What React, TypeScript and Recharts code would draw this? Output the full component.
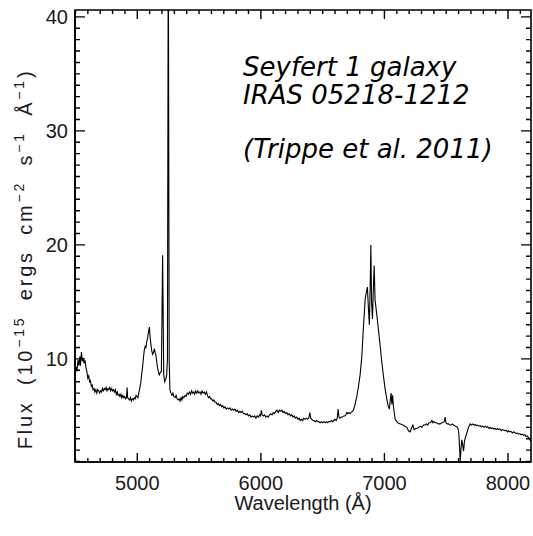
import React from "react";
import { LineChart, Line, XAxis, YAxis } from "recharts";

// ---- data: [wavelength (Å), flux (1e-15 erg/cm2/s/Å)] ----
const blueContinuum: [number, number][] = [
  [4496, 8.7], [4505, 9.3], [4512, 8.9], [4520, 9.9], [4527, 9.4], [4535, 10.2], [4540, 9.4], [4548, 10.6],
  [4555, 9.8], [4562, 10.0], [4570, 9.6], [4577, 9.9], [4585, 9.2], [4592, 8.9], [4600, 8.3], [4607, 8.5],
  [4614, 8.0], [4620, 8.1], [4628, 7.6], [4635, 7.7], [4642, 7.3], [4650, 7.4], [4657, 7.1], [4665, 7.3],
  [4672, 7.0], [4680, 7.3], [4688, 7.2], [4695, 7.0], [4703, 7.2], [4710, 7.1], [4718, 7.4], [4725, 7.2],
  [4733, 7.4], [4740, 7.3], [4748, 7.5], [4755, 7.2], [4763, 7.4], [4770, 7.3], [4778, 7.5], [4785, 7.2],
  [4793, 7.4], [4800, 7.2], [4808, 7.3], [4815, 7.1], [4823, 7.3], [4830, 6.9], [4838, 7.1], [4845, 6.8],
  [4853, 6.9], [4860, 6.7], [4868, 6.9], [4875, 6.6], [4883, 6.8], [4890, 6.6], [4898, 6.7], [4905, 6.5],
  [4912, 6.6], [4918, 7.5], [4922, 6.6], [4930, 6.5], [4938, 6.4], [4945, 6.6], [4952, 6.3], [4960, 6.5],
  [4968, 6.4], [4975, 6.6], [4983, 6.5], [4990, 6.8], [4998, 6.7],
];

const hBetaOIII: [number, number][] = [
  [5005, 6.6], [5012, 7.0], [5020, 7.4], [5028, 7.9], [5035, 8.6], [5043, 9.3], [5050, 10.1], [5057, 10.8],
  [5064, 11.1], [5070, 11.0], [5076, 11.5], [5083, 11.8], [5090, 12.3], [5098, 12.8], [5104, 11.9],
  [5110, 11.3], [5117, 10.7], [5125, 10.4], [5132, 10.6], [5138, 10.9], [5145, 10.5], [5151, 10.3],
  [5157, 9.8], [5163, 9.3], [5170, 8.9], [5178, 8.6], [5186, 8.8], [5195, 8.9], [5205, 19.1], [5214, 8.6],
  [5222, 8.0], [5230, 8.2], [5238, 8.6], [5244, 10.0], [5251, 48.0], [5258, 10.0], [5264, 7.3],
];

const midContinuum: [number, number][] = [
  [5272, 7.0], [5280, 6.8], [5288, 7.0], [5296, 6.7], [5306, 6.6], [5314, 6.8], [5322, 6.5], [5330, 6.4],
  [5338, 6.5], [5346, 6.3], [5354, 6.6], [5361, 6.4], [5368, 6.7], [5376, 6.6], [5386, 6.8], [5395, 6.7],
  [5404, 7.0], [5413, 6.9], [5422, 7.1], [5431, 6.9], [5440, 7.2], [5448, 7.0], [5456, 7.1], [5464, 6.9],
  [5473, 7.2], [5482, 7.0], [5490, 7.2], [5498, 7.0], [5507, 7.1], [5515, 6.9], [5524, 7.2], [5533, 7.0],
  [5542, 7.1], [5551, 6.9], [5560, 7.1], [5568, 6.8], [5576, 6.6], [5585, 6.7], [5594, 6.5], [5602, 6.5],
  [5611, 6.3], [5620, 6.4], [5629, 6.2], [5638, 6.2], [5647, 6.0], [5656, 6.1], [5665, 5.9], [5674, 6.0],
  [5683, 5.8], [5692, 5.9], [5701, 5.7], [5710, 5.8], [5720, 5.6], [5730, 5.7], [5740, 5.6], [5750, 5.7],
  [5760, 5.5], [5770, 5.6], [5780, 5.5], [5790, 5.6], [5800, 5.4], [5810, 5.5], [5820, 5.3], [5830, 5.4],
  [5840, 5.3], [5850, 5.4], [5860, 5.2], [5870, 5.2], [5880, 5.1], [5890, 5.2], [5900, 5.0], [5910, 5.1],
  [5920, 4.9], [5930, 5.0], [5940, 4.9], [5950, 5.0], [5960, 4.8], [5970, 5.0], [5980, 4.9], [5990, 5.1],
  [5997, 5.0], [6004, 5.5], [6010, 5.1], [6020, 5.0], [6030, 5.1], [6040, 4.9], [6050, 5.0], [6060, 4.9],
  [6070, 5.1], [6080, 5.2], [6090, 5.1], [6100, 5.3], [6110, 5.2], [6120, 5.4], [6130, 5.5], [6140, 5.3],
  [6150, 5.5], [6160, 5.4], [6170, 5.5], [6180, 5.3], [6190, 5.4], [6200, 5.2], [6210, 5.3], [6220, 5.1],
  [6230, 5.2], [6241, 5.0], [6250, 5.1], [6260, 4.9], [6270, 5.0], [6280, 4.8], [6290, 4.9], [6300, 4.7],
  [6310, 4.8], [6318, 4.6], [6328, 4.7], [6338, 4.6], [6348, 4.8], [6358, 4.7], [6368, 4.8], [6378, 4.7],
  [6388, 4.8], [6396, 5.3], [6404, 4.8], [6412, 4.7], [6420, 4.6], [6430, 4.6], [6440, 4.5], [6450, 4.6],
  [6460, 4.5], [6470, 4.5], [6480, 4.4], [6490, 4.5], [6500, 4.4], [6510, 4.5], [6520, 4.4], [6530, 4.5],
  [6540, 4.4], [6550, 4.5], [6560, 4.5], [6570, 4.6], [6580, 4.5], [6590, 4.6], [6600, 4.7], [6610, 4.6],
  [6618, 4.8], [6625, 5.6], [6632, 4.9], [6641, 4.8], [6650, 4.9], [6660, 4.9], [6670, 5.0], [6680, 5.0],
  [6687, 5.1], [6695, 5.3], [6703, 5.2], [6713, 5.3], [6722, 5.2], [6730, 5.3], [6740, 5.4],
];

const hAlphaRegion: [number, number][] = [
  [6749, 5.5], [6762, 6.0], [6776, 6.7], [6790, 7.6], [6803, 8.6], [6817, 10.2], [6830, 12.8],
  [6844, 15.2], [6853, 15.8], [6862, 16.3], [6870, 14.5], [6878, 13.0], [6884, 16.0], [6890, 20.0],
  [6896, 15.0], [6903, 13.5], [6910, 16.0], [6917, 18.2], [6924, 15.2], [6938, 13.9], [6952, 12.5],
  [6965, 11.2], [6978, 9.8], [6992, 8.5], [7005, 7.4], [7019, 6.5], [7030, 5.9], [7040, 5.6],
  [7047, 6.4], [7054, 7.0], [7060, 6.0], [7066, 6.8], [7073, 5.8], [7087, 4.7],
];

const redContinuum: [number, number][] = [
  [7100, 4.5], [7113, 4.35], [7130, 4.3], [7150, 4.2], [7165, 4.1], [7181, 4.0], [7195, 3.7], [7208, 3.6],
  [7218, 3.9], [7230, 4.2], [7240, 3.8], [7252, 3.9], [7262, 3.9], [7276, 4.0], [7290, 4.1], [7303, 4.0],
  [7316, 4.2], [7328, 4.2], [7340, 4.3], [7350, 4.2], [7360, 4.4], [7372, 4.4], [7384, 4.6], [7392, 4.4],
  [7400, 4.5], [7410, 4.4], [7420, 4.4], [7436, 4.3], [7451, 4.3], [7462, 4.4], [7470, 4.4], [7484, 4.5],
  [7491, 4.9], [7498, 4.4], [7508, 4.3], [7518, 4.3], [7530, 4.2], [7540, 4.2], [7550, 4.3], [7560, 4.2],
  [7575, 4.1], [7586, 4.06], [7595, 3.9], [7602, 3.5], [7608, 2.2], [7613, 1.0], [7619, 2.0], [7626, 2.9],
  [7633, 2.5], [7640, 1.9], [7648, 2.8], [7657, 3.2], [7667, 3.5], [7680, 4.0], [7694, 4.3], [7705, 4.2],
  [7715, 4.3], [7725, 4.2], [7735, 4.25], [7745, 4.15], [7755, 4.2], [7765, 4.1], [7775, 4.15], [7785, 4.05],
  [7795, 4.1], [7806, 4.0], [7815, 4.1], [7825, 4.0], [7835, 4.05], [7845, 3.9], [7855, 4.0], [7865, 3.9],
  [7875, 3.95], [7885, 3.85], [7895, 3.9], [7905, 3.8], [7915, 3.9], [7925, 3.8], [7935, 3.85], [7945, 3.7],
  [7955, 3.8], [7965, 3.75], [7975, 3.7], [7985, 3.75], [7995, 3.6], [8005, 3.7], [8015, 3.6], [8025, 3.65],
  [8035, 3.5], [8045, 3.6], [8055, 3.55], [8065, 3.45], [8076, 3.5], [8086, 3.4], [8096, 3.45], [8106, 3.35],
  [8116, 3.4], [8126, 3.3], [8136, 3.35], [8146, 3.2], [8157, 3.25], [8166, 3.1], [8174, 3.0], [8180, 2.85],
  [8186, 3.0],
];

const xMajorTicks = [5000, 6000, 7000, 8000];
const xMinorTicks = [
  4500, 4600, 4700, 4800, 4900, 5000, 5100, 5200, 5300, 5400, 5500, 5600, 5700, 5800, 5900, 6000, 6100,
  6200, 6300, 6400, 6500, 6600, 6700, 6800, 6900, 7000, 7100, 7200, 7300, 7400, 7500, 7600, 7700, 7800,
  7900, 8000, 8100,
];
const yMajorTicks = [10, 20, 30, 40];
const yMinorTicks = [
  1, 2, 3, 4, 5, 6, 7, 8, 9, 10, 11, 12, 13, 14, 15, 16, 17, 18, 19, 20, 21, 22, 23, 24, 25, 26, 27, 28,
  29, 30, 31, 32, 33, 34, 35, 36, 37, 38, 39, 40,
];
const xDomain: [number, number] = [4496, 8186];
const yDomain: [number, number] = [0.96, 40.6];

const annotationLines = ["Seyfert 1 galaxy", "IRAS 05218-1212", "(Trippe et al. 2011)"];
const xTitle = "Wavelength (Å)";

const spectrum = [...blueContinuum, ...hBetaOIII, ...midContinuum, ...hAlphaRegion, ...redContinuum].map(
  ([w, f]) => ({ w, f })
);

// plot rectangle (from chart margins and axis sizes)
const CHART_W = 533;
const CHART_H = 536;
const M_TOP = 10;
const M_RIGHT = 2;
const X_AXIS_H = 74;
const Y_AXIS_W = 75;
const PLOT_L = Y_AXIS_W;
const PLOT_R = CHART_W - M_RIGHT;
const PLOT_T = M_TOP;
const PLOT_B = CHART_H - X_AXIS_H;

// same linear mapping as the chart's axes, for the frame tick marks
const sx = (v: number) => PLOT_L + ((v - xDomain[0]) / (xDomain[1] - xDomain[0])) * (PLOT_R - PLOT_L);
const sy = (v: number) => PLOT_B - ((v - yDomain[0]) / (yDomain[1] - yDomain[0])) * (PLOT_B - PLOT_T);

const BottomTick = (p: any) => {
  const { x, y, payload } = p;
  if (!xMajorTicks.includes(payload.value)) return <g />;
  return (
    <text x={x} y={y + 28} textAnchor="middle" fontSize={20} fontFamily="Liberation Sans" fill="#1a1a1a">
      {payload.value}
    </text>
  );
};

const LeftTick = (p: any) => {
  const { x, y, payload } = p;
  if (!yMajorTicks.includes(payload.value)) return <g />;
  return (
    <text x={x - 7} y={y + 7.5} textAnchor="end" fontSize={20} fontFamily="Liberation Sans" fill="#1a1a1a">
      {payload.value}
    </text>
  );
};

const axisLine = { stroke: "#000", strokeWidth: 1.6 };

export default function App() {
  return (
    <div style={{ position: "absolute", left: 0, top: 0, width: CHART_W, height: CHART_H, background: "#fff" }}>
      <LineChart
        width={CHART_W}
        height={CHART_H}
        data={spectrum}
        margin={{ top: M_TOP, right: M_RIGHT, bottom: 0, left: 0 }}
      >
        <XAxis dataKey="w" type="number" domain={xDomain} allowDataOverflow ticks={xMinorTicks} interval={0}
          tickSize={0} tickMargin={0} tickLine={false} tick={<BottomTick />} axisLine={axisLine} height={X_AXIS_H} />
        <YAxis type="number" domain={yDomain} allowDataOverflow ticks={yMinorTicks} interval={0}
          tickSize={0} tickMargin={0} tickLine={false} tick={<LeftTick />} axisLine={axisLine} width={Y_AXIS_W} />
        <Line dataKey="f" type="linear" stroke="#000" strokeWidth={1.1} dot={false} isAnimationActive={false} />
      </LineChart>
      <svg
        width={CHART_W}
        height={CHART_H}
        viewBox={`0 0 ${CHART_W} ${CHART_H}`}
        style={{ position: "absolute", left: 0, top: 0, pointerEvents: "none", overflow: "visible" }}
      >
        <path
          d={`M${PLOT_L},${PLOT_T} H${PLOT_R} V${PLOT_B} H${PLOT_L} Z`}
          fill="none"
          stroke="#000"
          strokeWidth={1.6}
        />
        <path
          fill="none"
          stroke="#000"
          strokeWidth={1.4}
          d={[
            ...xMinorTicks.map((v) => {
              const len = xMajorTicks.includes(v) ? 9 : 4;
              const x = sx(v).toFixed(2);
              return `M${x},${PLOT_B} V${PLOT_B - len} M${x},${PLOT_T} V${PLOT_T + len}`;
            }),
            ...yMinorTicks.map((v) => {
              const len = yMajorTicks.includes(v) ? 10 : 5;
              const y = sy(v).toFixed(2);
              return `M${PLOT_L},${y} H${PLOT_L + len} M${PLOT_R},${y} H${PLOT_R - len}`;
            }),
          ].join(" ")}
        />
        <g fontFamily="DejaVu Sans" fontStyle="italic" fontSize={26} fill="#000">
          <text x={243} y={76}>{annotationLines[0]}</text>
          <text x={243} y={104}>{annotationLines[1]}</text>
          <text x={243} y={158}>{annotationLines[2]}</text>
        </g>
        <text x={303} y={510} textAnchor="middle" fontSize={20} fontFamily="Liberation Sans" fill="#1a1a1a">
          {xTitle}
        </text>
        <text
          transform="translate(32,259) rotate(-90)"
          textAnchor="middle"
          fontSize={20}
          fontFamily="Liberation Sans"
          fill="#1a1a1a"
          letterSpacing={2.8}
          wordSpacing={7}
        >
          <tspan>Flux (10</tspan>
          <tspan fontSize={14} dy={-8}>−15</tspan>
          <tspan dy={8}> ergs cm</tspan>
          <tspan fontSize={14} dy={-8}>−2</tspan>
          <tspan dy={8}> s</tspan>
          <tspan fontSize={14} dy={-8}>−1</tspan>
          <tspan dy={8}> Å</tspan>
          <tspan fontSize={14} dy={-8}>−1</tspan>
          <tspan dy={8}>)</tspan>
        </text>
      </svg>
    </div>
  );
}
